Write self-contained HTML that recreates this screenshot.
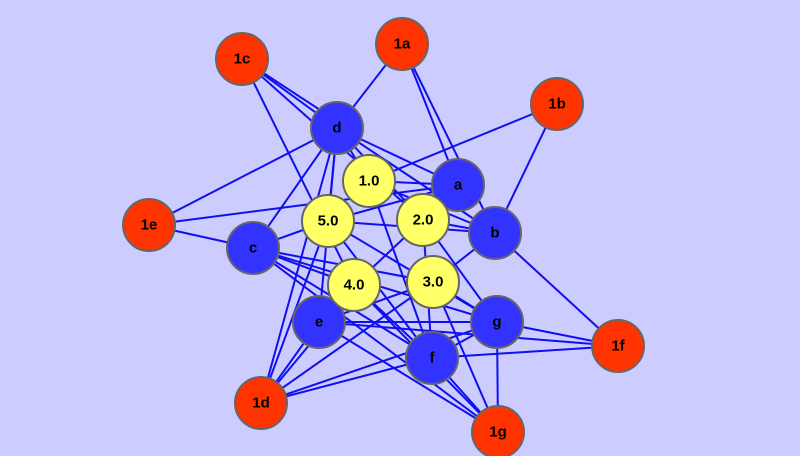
<!DOCTYPE html>
<html><head><style>
html,body{margin:0;padding:0;background:#ccccff;}
svg{display:block}
text{font-family:"Liberation Sans",sans-serif;font-weight:bold;font-size:15px;text-anchor:middle;dominant-baseline:central;fill:#000}
</style></head><body>
<svg width="800" height="456" viewBox="0 0 800 456">
<rect width="800" height="456" fill="#ccccff"/>
<g stroke="#1010ee" stroke-width="2" fill="none">
<!-- red to others -->
<line x1="242" y1="59" x2="337" y2="128"/>
<line x1="242" y1="59" x2="340" y2="123"/>
<line x1="242" y1="59" x2="423" y2="220"/>
<line x1="242" y1="59" x2="354" y2="285"/>
<line x1="402" y1="44" x2="337" y2="128"/>
<line x1="402" y1="44" x2="458" y2="185"/>
<line x1="402" y1="44" x2="495" y2="233"/>
<line x1="557" y1="104" x2="369" y2="181"/>
<line x1="557" y1="104" x2="495" y2="233"/>
<line x1="149" y1="225" x2="337" y2="128"/>
<line x1="149" y1="225" x2="458" y2="185"/>
<line x1="149" y1="225" x2="253" y2="248"/>
<line x1="261" y1="403" x2="328" y2="221"/>
<line x1="261" y1="403" x2="337" y2="128"/>
<line x1="261" y1="403" x2="319" y2="322"/>
<line x1="261" y1="403" x2="325" y2="326"/>
<line x1="261" y1="403" x2="433" y2="282"/>
<line x1="261" y1="403" x2="432" y2="358"/>
<line x1="261" y1="403" x2="497" y2="322"/>
<line x1="618" y1="346" x2="495" y2="233"/>
<line x1="618" y1="346" x2="497" y2="322"/>
<line x1="618" y1="346" x2="319" y2="322"/>
<line x1="618" y1="346" x2="432" y2="358"/>
<line x1="498" y1="432" x2="319" y2="322"/>
<line x1="498" y1="432" x2="432" y2="358"/>
<line x1="498" y1="432" x2="497" y2="322"/>
<line x1="498" y1="432" x2="253" y2="248"/>
<line x1="498" y1="432" x2="354" y2="285"/>
<line x1="498" y1="432" x2="433" y2="282"/>
<!-- blue/yellow -->
<line x1="337" y1="128" x2="369" y2="181"/>
<line x1="337" y1="128" x2="423" y2="220"/>
<line x1="337" y1="128" x2="458" y2="185"/>
<line x1="337" y1="128" x2="495" y2="233"/>
<line x1="337" y1="128" x2="328" y2="221"/>
<line x1="337" y1="128" x2="253" y2="248"/>
<line x1="337" y1="128" x2="319" y2="322"/>
<line x1="253" y1="248" x2="328" y2="221"/>
<line x1="253" y1="248" x2="433" y2="282"/>
<line x1="253" y1="248" x2="354" y2="285"/>
<line x1="253" y1="248" x2="432" y2="358"/>
<line x1="253" y1="248" x2="497" y2="322"/>
<line x1="319" y1="322" x2="354" y2="285"/>
<line x1="319" y1="322" x2="497" y2="322"/>
<line x1="319" y1="322" x2="433" y2="282"/>
<line x1="432" y1="358" x2="328" y2="221"/>
<line x1="432" y1="358" x2="369" y2="181"/>
<line x1="432" y1="358" x2="354" y2="285"/>
<line x1="432" y1="358" x2="423" y2="220"/>
<line x1="432" y1="358" x2="497" y2="322"/>
<line x1="497" y1="322" x2="433" y2="282"/>
<line x1="497" y1="322" x2="423" y2="220"/>
<line x1="497" y1="322" x2="328" y2="221"/>
<line x1="458" y1="185" x2="369" y2="181"/>
<line x1="458" y1="185" x2="328" y2="221"/>
<line x1="458" y1="185" x2="423" y2="220"/>
<line x1="495" y1="233" x2="423" y2="220"/>
<line x1="495" y1="233" x2="433" y2="282"/>
<line x1="495" y1="233" x2="369" y2="181"/>
<line x1="495" y1="233" x2="328" y2="221"/>
<line x1="354" y1="285" x2="423" y2="220"/>
</g>
<g stroke="#666" stroke-width="2">
<circle cx="242" cy="59" r="26" fill="#ff3300"/>
<circle cx="402" cy="44" r="26" fill="#ff3300"/>
<circle cx="557" cy="104" r="26" fill="#ff3300"/>
<circle cx="149" cy="225" r="26" fill="#ff3300"/>
<circle cx="261" cy="403" r="26" fill="#ff3300"/>
<circle cx="618" cy="346" r="26" fill="#ff3300"/>
<circle cx="498" cy="432" r="26" fill="#ff3300"/>
<circle cx="337" cy="128" r="26" fill="#3333ff"/>
<circle cx="458" cy="185" r="26" fill="#3333ff"/>
<circle cx="495" cy="233" r="26" fill="#3333ff"/>
<circle cx="253" cy="248" r="26" fill="#3333ff"/>
<circle cx="319" cy="322" r="26" fill="#3333ff"/>
<circle cx="432" cy="358" r="26" fill="#3333ff"/>
<circle cx="497" cy="322" r="26" fill="#3333ff"/>
<circle cx="369" cy="181" r="26" fill="#ffff66"/>
<circle cx="423" cy="220" r="26" fill="#ffff66"/>
<circle cx="328" cy="221" r="26" fill="#ffff66"/>
<circle cx="354" cy="285" r="26" fill="#ffff66"/>
<circle cx="433" cy="282" r="26" fill="#ffff66"/>
</g>
<text x="242" y="59">1c</text>
<text x="402" y="44">1a</text>
<text x="557" y="104">1b</text>
<text x="149" y="225">1e</text>
<text x="261" y="403">1d</text>
<text x="618" y="346">1f</text>
<text x="498" y="432">1g</text>
<text x="337" y="128">d</text>
<text x="458" y="185">a</text>
<text x="495" y="233">b</text>
<text x="253" y="248">c</text>
<text x="319" y="322">e</text>
<text x="432" y="358">f</text>
<text x="497" y="322">g</text>
<text x="369" y="181">1.0</text>
<text x="423" y="220">2.0</text>
<text x="328" y="221">5.0</text>
<text x="354" y="285">4.0</text>
<text x="433" y="282">3.0</text>
</svg>
</body></html>
